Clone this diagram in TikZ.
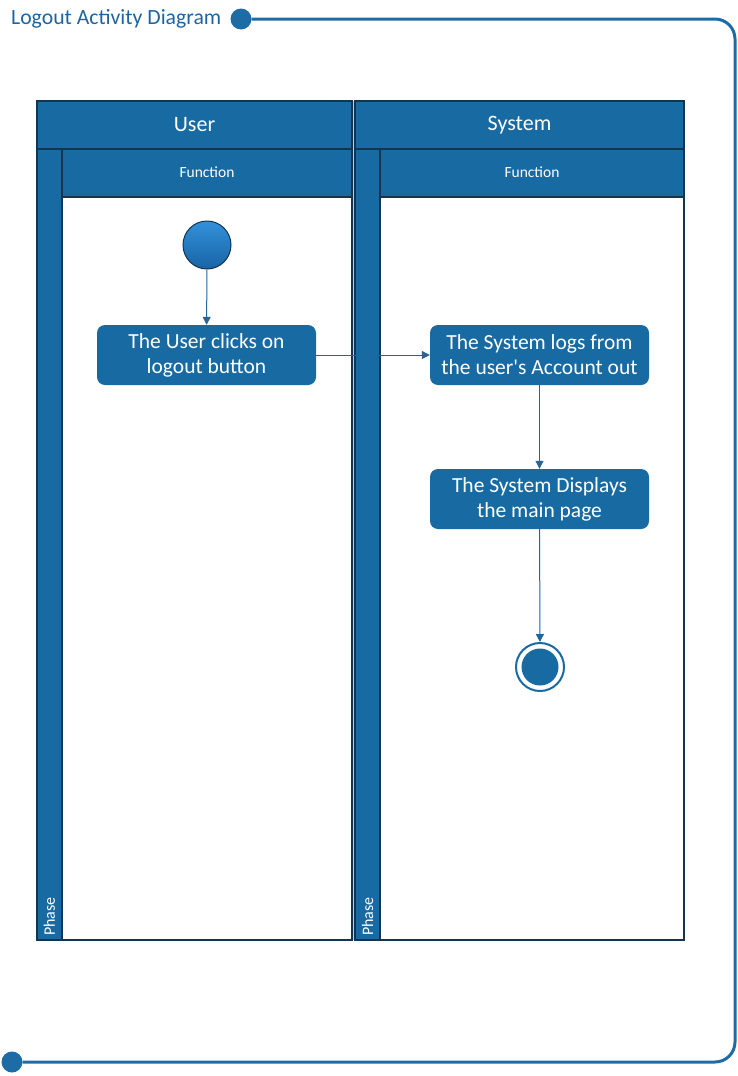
\documentclass[tikz,border=0pt]{standalone}
\usepackage{fontspec}
\setmainfont{Carlito}[Ligatures=TeXOff]
\usetikzlibrary{arrows.meta,positioning}
\definecolor{laneblue}{RGB}{24,106,163}
\definecolor{lanedark}{RGB}{22,52,80}
\definecolor{framecol}{RGB}{30,108,165}
\definecolor{titlecol}{RGB}{31,100,160}
\definecolor{arrowcol}{RGB}{40,100,150}
\definecolor{startlight}{RGB}{50,145,218}
\definecolor{startdark}{RGB}{24,100,165}
\definecolor{gapgrey}{RGB}{200,205,210}
\tikzset{
  x=1pt,y=-1pt,
  lanepart/.style={draw=lanedark,line width=1.5pt,fill=laneblue},
  laneinner/.style={draw=lanedark,line width=1.5pt,fill=white},
  actbox/.style={rectangle,rounded corners=8pt,fill=laneblue,draw=none,
    minimum width=219pt,minimum height=60pt,align=center,text=white,
    font=\fontsize{21.5}{25}\selectfont,inner sep=0pt},
  flow/.style={draw=arrowcol,line width=1pt,-{Triangle[length=8pt,width=8pt]}},
  dot/.style={circle,fill=framecol,inner sep=0pt,minimum size=21pt},
  hdr/.style={text=white,font=\fontsize{22}{24}\selectfont},
  subhdr/.style={text=white,font=\fontsize{15.5}{18}\selectfont},
  phase/.style={text=white,font=\fontsize{16}{18}\selectfont,rotate=90,anchor=west,inner sep=0pt}
}
\begin{document}
\begin{tikzpicture}
\useasboundingbox (0,0) rectangle (738,1076);
% title and frame
\node[anchor=west,text=titlecol,font=\fontsize{21.7}{24}\selectfont,inner sep=0pt] (title) at (11,19) {Logout Activity Diagram};
\node[dot] (tdot) at (241,19) {};
\node[dot] (bdot) at (12,1062) {};
\draw[framecol,line width=3pt,rounded corners=20pt] (tdot.east) -- (735,19) -- (735,1062) -- (bdot.east);
% gap between lanes
\fill[gapgrey] (352.5,101) rectangle (354.5,940);
% left lane
\path[lanepart] (37,101) rectangle (352,149);
\path[lanepart] (37,149) rectangle (62,940);
\path[lanepart] (62,149) rectangle (352,197);
\path[laneinner] (62,197) rectangle (352,940);
\node[hdr] (userh) at (194.5,125) {User};
\node[subhdr] (funcl) at (207,172) {Function};
\node[phase] (phasel) at (49.5,936) {Phase};
% right lane
\path[lanepart] (355,101) rectangle (684,149);
\path[lanepart] (355,149) rectangle (380,940);
\path[lanepart] (380,149) rectangle (684,197);
\path[laneinner] (380,197) rectangle (684,940);
\node[hdr] (sysh) at (519.5,125) {System};
\node[subhdr] (funcr) at (532,172) {Function};
\node[phase] (phaser) at (367.5,936) {Phase};
% start
\node[circle,draw=lanedark,line width=1pt,top color=startlight,bottom color=startdark,minimum size=48pt,inner sep=0pt] (start) at (207,245) {};
% actions
\node[actbox] (a1) at (206.5,355) {The User clicks on\\logout button};
\node[actbox] (a2) at (539.5,355) {The System logs from\\the user's Account out};
\node[actbox] (a3) at (539.5,499) {The System Displays\\the main page};
% end
\node[circle,draw=laneblue,line width=2pt,fill=white,minimum size=48pt,inner sep=0pt] (endo) at (540,667) {};
\node[circle,fill=laneblue,minimum size=37pt,inner sep=0pt] (endi) at (540,667) {};
% flows
\draw[flow] (start) -- (a1);
\draw[flow] (a1) -- (a2);
\draw[flow] (a2) -- (a3);
\draw[flow] (a3) -- (endo);
\end{tikzpicture}
\end{document}
